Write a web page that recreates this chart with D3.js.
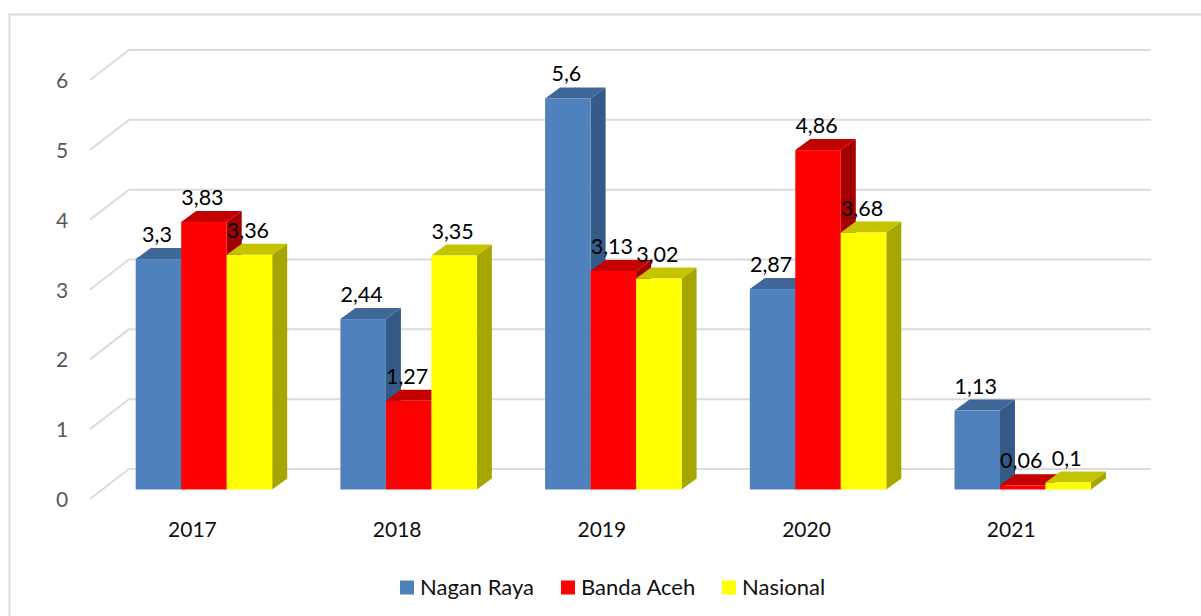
<!DOCTYPE html>
<html><head><meta charset="utf-8">
<script src="https://cdn.jsdelivr.net/npm/d3@7/dist/d3.min.js"></script>
<style>html,body{margin:0;padding:0;background:#fff}svg{display:block}text{font-family:Lato,"Open Sans",sans-serif}</style>
</head><body><svg id="c" width="1201" height="616"></svg>
<script>
const years=["2017","2018","2019","2020","2021"];
const seriesNames=["Nagan Raya","Banda Aceh","Nasional"];
const naganRaya=[3.3,2.44,5.6,2.87,1.13];
const bandaAceh=[3.83,1.27,3.13,4.86,0.06];
const nasional=[3.36,3.35,3.02,3.68,0.1];
const labelsNagan=["3,3","2,44","5,6","2,87","1,13"];
const labelsBanda=["3,83","1,27","3,13","4,86","0,06"];
const labelsNasional=["3,36","3,35","3,02","3,68","0,1"];
const yTicks=[0,1,2,3,4,5,6];
const palette=[
 {front:"#4f81bd",top:"#3f6797",side:"#365a87"},
 {front:"#ff0000",top:"#c40000",side:"#a30000"},
 {front:"#ffff00",top:"#c4c400",side:"#a6a600"}];
const seriesVals=[naganRaya,bandaAceh,nasional];
const seriesLabels=[labelsNagan,labelsBanda,labelsNasional];

const svg=d3.select("#c");
const y=d3.scaleLinear().domain([0,6]).range([489.5,70.5]);
const x0=d3.scaleBand().domain(years).range([101.6,1125.1]).paddingInner(0.3333).paddingOuter(0.1667);
const x1=d3.scaleBand().domain(d3.range(3)).range([0,x0.bandwidth()]);
const barW=x1.bandwidth(), dx=15, dy=11;

// outer frame
svg.append("path").attr("d","M9.5,616V14.5H1201").attr("fill","none").attr("stroke","#dcdcdc").attr("stroke-width",2);

// gridlines (floor/wall perspective)
const g=svg.append("g");
yTicks.forEach(t=>{
  const yy=y(t);
  g.append("path").attr("d",`M90,${yy+9.5}L129,${yy-20.5}H1151`).attr("fill","none").attr("stroke","#dcdcdc").attr("stroke-width",2);
  svg.append("text").attr("x",62).attr("y",yy+17.5).attr("text-anchor","middle").attr("font-size",21).attr("fill","#595959").text(t);
});

// bars
years.forEach((yr,i)=>{
  seriesVals.forEach((vals,s)=>{
    const c=palette[s], l=x0(yr)+x1(s), r=l+barW, t=y(vals[i]), b=y(0);
    const bar=svg.append("g");
    bar.append("path").attr("d",`M${r},${t}l${dx},${-dy}V${b-dy}L${r},${b}Z`).attr("fill",c.side);
    bar.append("path").attr("d",`M${l},${t}l${dx},${-dy}H${r+dx}L${r},${t}Z`).attr("fill",c.top);
    bar.append("rect").attr("x",l).attr("y",t).attr("width",barW).attr("height",b-t).attr("fill",c.front);
  });
});

// data labels
years.forEach((yr,i)=>{
  seriesVals.forEach((vals,s)=>{
    svg.append("text").attr("x",x0(yr)+x1(s)+barW/2-1.5).attr("y",y(vals[i])-17)
      .attr("text-anchor","middle").attr("font-size",21.5).attr("fill","#000").text(seriesLabels[s][i]);
  });
  svg.append("text").attr("x",x0(yr)+x0.bandwidth()/2-11.5).attr("y",537)
    .attr("text-anchor","middle").attr("font-size",21).attr("fill","#111").text(yr);
});

// legend
const legendX=[400,561,722];
seriesNames.forEach((n,i)=>{
  svg.append("rect").attr("x",legendX[i]).attr("y",580.5).attr("width",14).attr("height",14).attr("fill",palette[i].front);
  svg.append("text").attr("x",legendX[i]+20).attr("y",594.5).attr("font-size",22).attr("fill","#111").text(n);
});
</script></body></html>
